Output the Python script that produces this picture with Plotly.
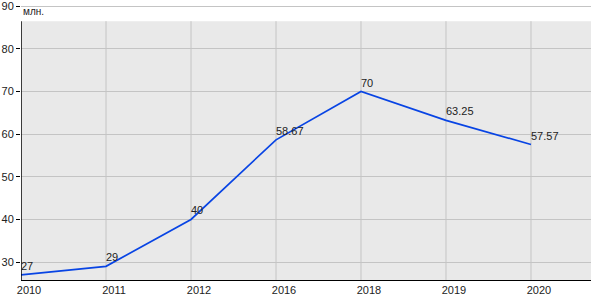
import plotly.graph_objects as go

categories = ["2010", "2011", "2012", "2016", "2018", "2019", "2020"]
values = [27, 29, 40, 58.67, 70, 63.25, 57.57]
labels = ["27", "29", "40", "58.67", "70", "63.25", "57.57"]
y_ticks = [30, 40, 50, 60, 70, 80, 90]
unit_label = "млн."

y_min, y_max, bg_top = 25.8, 91.0, 86.5
x_max = len(categories) - 1 + 0.706
xs = list(range(len(categories)))

fig = go.Figure()
fig.add_trace(go.Scatter(
    x=xs, y=values, mode="lines",
    line=dict(color="#0844e4", width=1.7), hoverinfo="skip",
))

shapes = [dict(type="rect", xref="x", yref="y", x0=0, x1=x_max, y0=y_min, y1=bg_top,
               fillcolor="#e9e9e9", line=dict(width=0), layer="below")]
for i in range(1, len(categories)):
    shapes.append(dict(type="line", xref="x", yref="y", x0=i, x1=i, y0=y_min, y1=bg_top,
                       line=dict(color="#c4c4c4", width=1), layer="between"))
shapes.append(dict(type="line", xref="x", yref="y", x0=0, x1=0, y0=y_min, y1=bg_top,
                   line=dict(color="#000000", width=1.5), layer="above"))

annotations = [dict(text=unit_label, xref="paper", yref="y", x=0, y=bg_top,
                    xanchor="left", yanchor="bottom", xshift=0, yshift=2, showarrow=False,
                    font=dict(size=10, color="#222222"))]
for xi, v, t in zip(xs, values, labels):
    annotations.append(dict(text=t, xref="x", yref="y", x=xi, y=v,
                            xanchor="left", yanchor="bottom", xshift=-2, yshift=1,
                            showarrow=False, font=dict(size=11, color="#222222")))

fig.update_layout(
    width=600, height=300,
    margin=dict(l=21, r=9, t=0, b=20),
    paper_bgcolor="white", plot_bgcolor="white",
    showlegend=False,
    font=dict(family="Liberation Sans, Arial", size=11, color="#222222"),
    shapes=shapes,
    annotations=annotations,
    xaxis=dict(range=[0, x_max], tickmode="array", tickvals=xs,
               ticktext=categories, showgrid=False, zeroline=False,
               showline=True, linecolor="#000000", linewidth=1.3,
               ticks="", ticklabelshift=8, ticklabelstandoff=0,
               tickfont=dict(size=11, color="#222222")),
    yaxis=dict(range=[y_min, y_max], tickvals=y_ticks, showgrid=True,
               gridcolor="#c4c4c4", gridwidth=1, zeroline=False, showline=False,
               ticks="outside", ticklen=4, tickcolor="#000000",
               ticklabeloverflow="allow",
               tickfont=dict(size=11, color="#222222")),
)
fig.write_html("out.html")
